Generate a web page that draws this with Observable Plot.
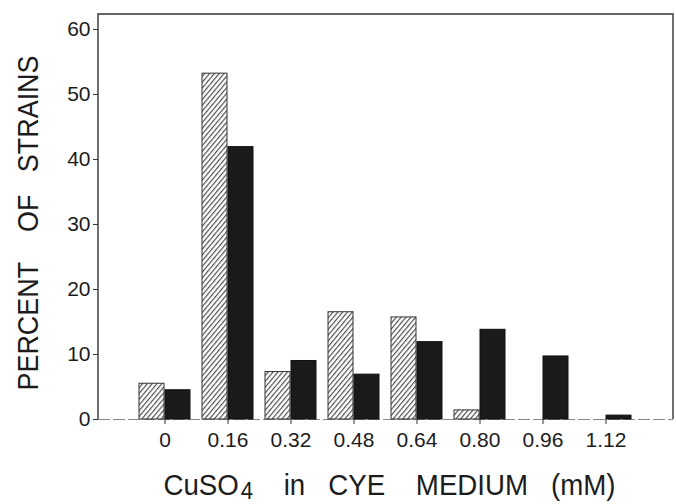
<!DOCTYPE html>
<html>
<head>
<meta charset="utf-8">
<script src="https://cdn.jsdelivr.net/npm/d3@7"></script>
<script src="https://cdn.jsdelivr.net/npm/@observablehq/plot@0.6"></script>
<style>
  html, body { margin: 0; padding: 0; background: #fff; }
</style>
</head>
<body>
<div id="chart"></div>
<script>
// ---- data ----
const concentrations = ["0", "0.16", "0.32", "0.48", "0.64", "0.80", "0.96", "1.12"];
const hatchedPct = [5.5, 53.2, 7.3, 16.5, 15.7, 1.4, 0, 0];
const solidPct   = [4.5, 41.9, 9.0, 6.9, 11.9, 13.8, 9.7, 0.6];
const yTicks = [0, 10, 20, 30, 40, 50, 60];
const yTitleWords = ["PERCENT", "OF", "STRAINS"];
const xTitleMain = "CuSO";
const xTitleSub = "4";
const xTitleWords = ["in", "CYE", "MEDIUM", "(mM)"];

const rows = concentrations.map((c, i) => ({c, hatched: hatchedPct[i], solid: solidPct[i]}));
const sp = n => "\u00a0".repeat(n);

const ink = "#1c1c1c";

// frame: left, top and right sides
const frameLines = (index, scales, values, dims) => {
  const l = dims.marginLeft, r = dims.width - dims.marginRight;
  const t = dims.marginTop, b = dims.height - dims.marginBottom;
  return d3.create("svg:path")
    .attr("d", `M${l},${b}V${t}H${r}V${b}`)
    .attr("fill", "none")
    .attr("stroke", "#333")
    .attr("stroke-width", 1.4)
    .node();
};

const yTitle = yTitleWords[0] + sp(4) + yTitleWords[1] + sp(3) + yTitleWords[2];

const chart = Plot.plot({
  width: 676,
  height: 504,
  marginLeft: 98,
  marginRight: 3,
  marginTop: 14,
  marginBottom: 85,
  style: {fontFamily: "'Liberation Sans', Arial, sans-serif", color: ink, background: "#fff"},
  x: {domain: concentrations, paddingInner: 0.184, paddingOuter: 0.607, align: 0.5},
  y: {domain: [0, 62.3]},
  marks: [
    Plot.ruleY([0], {stroke: "#8a8a8a", strokeWidth: 1.2, strokeDasharray: "12,3"}),
    Plot.barY(rows, {x: "c", y: "hatched", fill: "url(#hatch)", stroke: "#333", strokeWidth: 1, insetRight: 26}),
    Plot.barY(rows, {x: "c", y: "solid", fill: "#1a1a1a", stroke: "#111", strokeWidth: 1, insetLeft: 26}),
    Plot.axisY({ticks: yTicks, tickSize: 5, tickPadding: 3, fontSize: 21, label: null, stroke: "#333"}),
    Plot.axisX({tickSize: 5, tickPadding: 8, fontSize: 21, label: null, stroke: "#333"}),
    frameLines,
    Plot.text([yTitle], {
      text: d => d, frameAnchor: "left", rotate: -90, dx: -70.5, dy: 6,
      fontSize: 30, fill: ink, textAnchor: "middle", lineAnchor: "middle"
    }),
    Plot.text([xTitleMain], {
      text: d => d, frameAnchor: "bottom", dx: 3.5, dy: 66,
      fontSize: 30, fill: ink, textAnchor: "middle", lineAnchor: "middle"
    })
  ]
});

document.getElementById("chart").appendChild(chart);

// hatch pattern
const svg = d3.select(chart);
const defs = svg.insert("defs", ":first-child");
const pat = defs.append("pattern")
  .attr("id", "hatch")
  .attr("patternUnits", "userSpaceOnUse")
  .attr("width", 3.7).attr("height", 10)
  .attr("patternTransform", "rotate(40)");
pat.append("rect").attr("width", 3.7).attr("height", 10).attr("fill", "#fff");
pat.append("line").attr("x1", 0.6).attr("y1", 0).attr("x2", 0.6).attr("y2", 10)
  .attr("stroke", "#3a3a3a").attr("stroke-width", 1.05);

// titles: condensed lettering, x title with subscript
svg.selectAll("text").each(function() {
  const t = d3.select(this);
  if (this.textContent === xTitleMain) {
    t.text("");
    t.append("tspan").text(xTitleMain);
    t.append("tspan").attr("dx", 2).attr("dy", 4).attr("font-size", 24).text(xTitleSub);
    t.append("tspan").attr("dy", -4).text(
      sp(4) + xTitleWords[0] + sp(3) + xTitleWords[1] + sp(4) + xTitleWords[2] + sp(3) + xTitleWords[3]
    );
    t.attr("textLength", 452).attr("lengthAdjust", "spacingAndGlyphs");
  } else if (this.textContent === yTitle) {
    t.attr("textLength", 335).attr("lengthAdjust", "spacingAndGlyphs");
  }
});
</script>
</body>
</html>
